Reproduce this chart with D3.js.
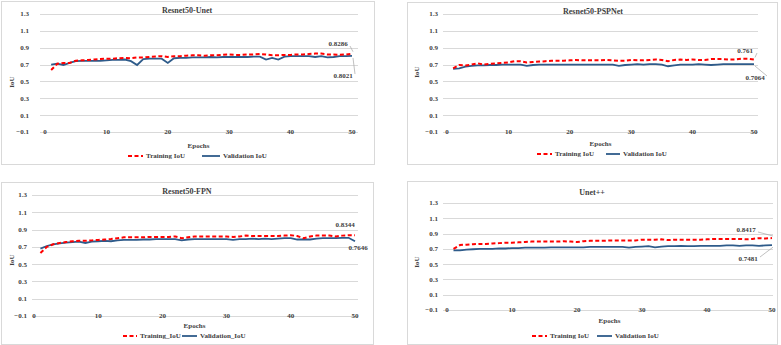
<!DOCTYPE html>
<html>
<head>
<meta charset="utf-8">
<script src="https://cdn.jsdelivr.net/npm/d3@7"></script>
<style>
  body { margin: 0; background: #fff; }
  text { font-family: "Liberation Serif", "Times New Roman", serif; font-weight: bold; fill: #404040; }
</style>
</head>
<body>
<svg id="chart" width="781" height="345"></svg>
<script>
// epochs 1..50
const epochs = d3.range(1, 51);
const yTicks = [-0.1, 0.1, 0.3, 0.5, 0.7, 0.9, 1.1, 1.3];
const xTicks = [0, 10, 20, 30, 40, 50];

const titles = ["Resnet50-Unet", "Resnet50-PSPNet", "Resnet50-FPN", "Unet++"];
const trainNames = ["Training IoU", "Training IoU", "Training_IoU", "Training IoU"];
const valNames = ["Validation IoU", "Validation IoU", "Validation_IoU", "Validation IoU"];

const unetTrain = [0.635,0.71,0.72,0.72,0.745,0.75,0.755,0.76,0.765,0.77,0.77,0.775,0.78,0.775,0.785,0.785,0.79,0.795,0.80,0.79,
  0.80,0.80,0.805,0.81,0.81,0.805,0.81,0.81,0.815,0.82,0.815,0.815,0.82,0.82,0.825,0.82,0.81,0.81,0.815,0.815,
  0.82,0.82,0.825,0.83,0.83,0.82,0.82,0.815,0.82,0.8286];
const unetVal = [0.70,0.71,0.695,0.72,0.74,0.745,0.745,0.745,0.745,0.75,0.755,0.755,0.76,0.74,0.695,0.765,0.77,0.77,0.77,0.72,
  0.775,0.78,0.78,0.785,0.785,0.785,0.79,0.785,0.79,0.79,0.79,0.79,0.79,0.795,0.795,0.76,0.78,0.76,0.795,0.80,
  0.80,0.80,0.80,0.79,0.80,0.785,0.79,0.80,0.80,0.8021];

const pspTrain = [0.655,0.695,0.69,0.70,0.715,0.70,0.71,0.715,0.72,0.725,0.74,0.74,0.725,0.73,0.735,0.74,0.745,0.745,0.745,0.75,
  0.755,0.75,0.75,0.75,0.75,0.755,0.75,0.745,0.745,0.755,0.75,0.75,0.755,0.76,0.755,0.74,0.755,0.76,0.755,0.76,
  0.755,0.755,0.765,0.765,0.765,0.76,0.76,0.77,0.77,0.761];
const pspVal = [0.65,0.655,0.675,0.685,0.69,0.69,0.695,0.695,0.70,0.70,0.70,0.70,0.685,0.695,0.70,0.70,0.70,0.70,0.70,0.70,
  0.70,0.70,0.70,0.70,0.70,0.70,0.70,0.685,0.695,0.70,0.705,0.70,0.705,0.705,0.70,0.68,0.69,0.70,0.70,0.70,
  0.705,0.70,0.695,0.70,0.705,0.705,0.705,0.705,0.705,0.7064];

const fpnTrain = [0.63,0.70,0.73,0.745,0.755,0.765,0.77,0.77,0.775,0.78,0.785,0.79,0.80,0.81,0.81,0.81,0.81,0.815,0.815,0.815,
  0.815,0.82,0.80,0.81,0.82,0.82,0.82,0.82,0.82,0.82,0.815,0.82,0.83,0.825,0.825,0.825,0.825,0.825,0.83,0.835,
  0.825,0.80,0.82,0.83,0.83,0.83,0.82,0.83,0.835,0.8344];
const fpnVal = [0.68,0.71,0.73,0.74,0.75,0.755,0.76,0.745,0.76,0.765,0.77,0.765,0.775,0.78,0.78,0.78,0.785,0.785,0.79,0.79,
  0.79,0.79,0.775,0.785,0.79,0.79,0.79,0.79,0.79,0.79,0.78,0.79,0.79,0.795,0.79,0.795,0.79,0.795,0.80,0.80,
  0.785,0.785,0.785,0.795,0.80,0.80,0.80,0.805,0.805,0.7646];

const unetppTrain = [0.70,0.75,0.755,0.76,0.765,0.765,0.77,0.775,0.78,0.78,0.785,0.79,0.795,0.795,0.795,0.795,0.795,0.80,0.795,0.79,
  0.80,0.805,0.805,0.805,0.81,0.81,0.81,0.81,0.81,0.82,0.82,0.82,0.825,0.815,0.82,0.82,0.82,0.82,0.82,0.825,
  0.83,0.83,0.83,0.83,0.83,0.825,0.83,0.84,0.835,0.8417];
const unetppVal = [0.68,0.68,0.69,0.695,0.70,0.70,0.70,0.705,0.705,0.71,0.71,0.715,0.715,0.715,0.715,0.72,0.72,0.72,0.72,0.72,
  0.72,0.725,0.725,0.725,0.725,0.725,0.725,0.715,0.725,0.73,0.735,0.72,0.73,0.735,0.735,0.74,0.735,0.735,0.74,0.74,
  0.74,0.74,0.745,0.745,0.74,0.745,0.745,0.74,0.745,0.7481];

const trainSeries = [unetTrain, pspTrain, fpnTrain, unetppTrain];
const valSeries = [unetVal, pspVal, fpnVal, unetppVal];

// layout of each panel (pixels); lead = draw leader lines to the end points
const panels = [
  {box: [1, 1, 374, 164], xr: [45, 352], yr: [132, 14], gx: [40, 358], labR: 29, title: [187, 10],
   xt: 146, yt: [12, 82], lg: {y: 156, d: [128, 143], s: [202, 220]},
   tA: [338, 44], vA: [343, 76], lead: true},
  {box: [407, 2, 777, 164], xr: [447, 754], yr: [132, 14], gx: [443, 758], labR: 438, title: [593, 11],
   xt: 144, yt: [417, 72], lg: {y: 154, d: [537, 552], s: [606, 620]},
   tA: [745, 51], vA: [755, 78], lead: true},
  {box: [1, 182, 373, 344], xr: [34, 355], yr: [316, 195], gx: [32, 358], labR: 27, title: [187, 191],
   xt: 326, yt: [12, 260], lg: {y: 336, d: [123, 137], s: [182, 197]},
   tA: [345, 225], vA: [358, 248], lead: false},
  {box: [407, 181, 777, 344], xr: [447, 772], yr: [310, 203], gx: [443, 773], labR: 438, title: [592, 192],
   xt: 321, yt: [417, 262], lg: {y: 336, d: [532, 547], s: [597, 612]},
   tA: [746, 230], vA: [748, 259], lead: true}
];

const svg = d3.select("#chart");
const red = "#ff0000", blue = "#2e5b8a", grid = "#d9d9d9";
const fs = 7;

panels.forEach((p, i) => {
  const g = svg.append("g");
  g.append("rect")
    .attr("x", p.box[0] + 0.5).attr("y", p.box[1] + 0.5)
    .attr("width", p.box[2] - p.box[0]).attr("height", p.box[3] - p.box[1])
    .attr("fill", "none").attr("stroke", grid).attr("stroke-width", 1);

  const x = d3.scaleLinear().domain([0, 50]).range(p.xr);
  const y = d3.scaleLinear().domain([-0.1, 1.3]).range(p.yr);

  // gridlines and y labels
  g.selectAll(".grid").data(yTicks).enter().append("line")
    .attr("x1", p.gx[0]).attr("x2", p.gx[1])
    .attr("y1", d => Math.round(y(d)) + 0.5).attr("y2", d => Math.round(y(d)) + 0.5)
    .attr("stroke", grid).attr("stroke-width", 1);
  g.selectAll(".yl").data(yTicks).enter().append("text")
    .attr("x", p.labR).attr("y", d => y(d)).attr("dy", "0.35em")
    .attr("text-anchor", "end").attr("font-size", fs)
    .text(d => d3.format(".1f")(d));

  // x labels sit on the baseline row
  g.selectAll(".xl").data(xTicks).enter().append("text")
    .attr("x", d => x(d)).attr("y", y(-0.1)).attr("dy", "0.35em")
    .attr("text-anchor", "middle").attr("font-size", fs)
    .text(d => d);

  g.append("text").attr("x", p.title[0]).attr("y", p.title[1]).attr("dy", "0.35em")
    .attr("text-anchor", "middle").attr("font-size", 8).attr("fill", "#000").text(titles[i]);
  g.append("text").attr("x", (p.xr[0] + p.xr[1]) / 2).attr("y", p.xt).attr("dy", "0.35em")
    .attr("text-anchor", "middle").attr("font-size", fs).text("Epochs");
  g.append("text")
    .attr("transform", `translate(${p.yt[0]},${p.yt[1]}) rotate(-90)`)
    .attr("dy", "0.35em").attr("text-anchor", "middle").attr("font-size", fs).text("IoU");

  const line = d3.line().x((d, j) => x(epochs[j])).y(d => y(d));
  g.append("path").datum(valSeries[i]).attr("d", line)
    .attr("fill", "none").attr("stroke", blue).attr("stroke-width", 1.8);
  g.append("path").datum(trainSeries[i]).attr("d", line)
    .attr("fill", "none").attr("stroke", red).attr("stroke-width", 2)
    .attr("stroke-dasharray", "4,2.5");

  // end labels with leader lines
  const tEnd = trainSeries[i][49], vEnd = valSeries[i][49];
  const ex = x(50);
  g.append("text").attr("x", p.tA[0]).attr("y", p.tA[1]).attr("dy", "0.35em")
    .attr("text-anchor", "middle").attr("font-size", fs).attr("fill", "#262626").text(tEnd);
  g.append("text").attr("x", p.vA[0]).attr("y", p.vA[1]).attr("dy", "0.35em")
    .attr("text-anchor", "middle").attr("font-size", fs).attr("fill", "#262626").text(vEnd);
  if (p.lead) {
    g.append("line").attr("x1", p.tA[0] + 12).attr("y1", p.tA[1] + 2)
      .attr("x2", ex + 1).attr("y2", y(tEnd) - 2).attr("stroke", "#a6a6a6").attr("stroke-width", 0.7);
    g.append("line").attr("x1", p.vA[0] + 12).attr("y1", p.vA[1] - 2)
      .attr("x2", ex + 1).attr("y2", y(vEnd) + 2).attr("stroke", "#a6a6a6").attr("stroke-width", 0.7);
  }

  // legend
  const lg = g.append("g");
  lg.append("line").attr("x1", p.lg.d[0]).attr("x2", p.lg.d[1]).attr("y1", p.lg.y).attr("y2", p.lg.y)
    .attr("stroke", red).attr("stroke-width", 2).attr("stroke-dasharray", "4,2.5");
  lg.append("text").attr("x", p.lg.d[1] + 3).attr("y", p.lg.y).attr("dy", "0.35em")
    .attr("font-size", fs).text(trainNames[i]);
  lg.append("line").attr("x1", p.lg.s[0]).attr("x2", p.lg.s[1]).attr("y1", p.lg.y).attr("y2", p.lg.y)
    .attr("stroke", blue).attr("stroke-width", 1.8);
  lg.append("text").attr("x", p.lg.s[1] + 3).attr("y", p.lg.y).attr("dy", "0.35em")
    .attr("font-size", fs).text(valNames[i]);
});
</script>
</body>
</html>
